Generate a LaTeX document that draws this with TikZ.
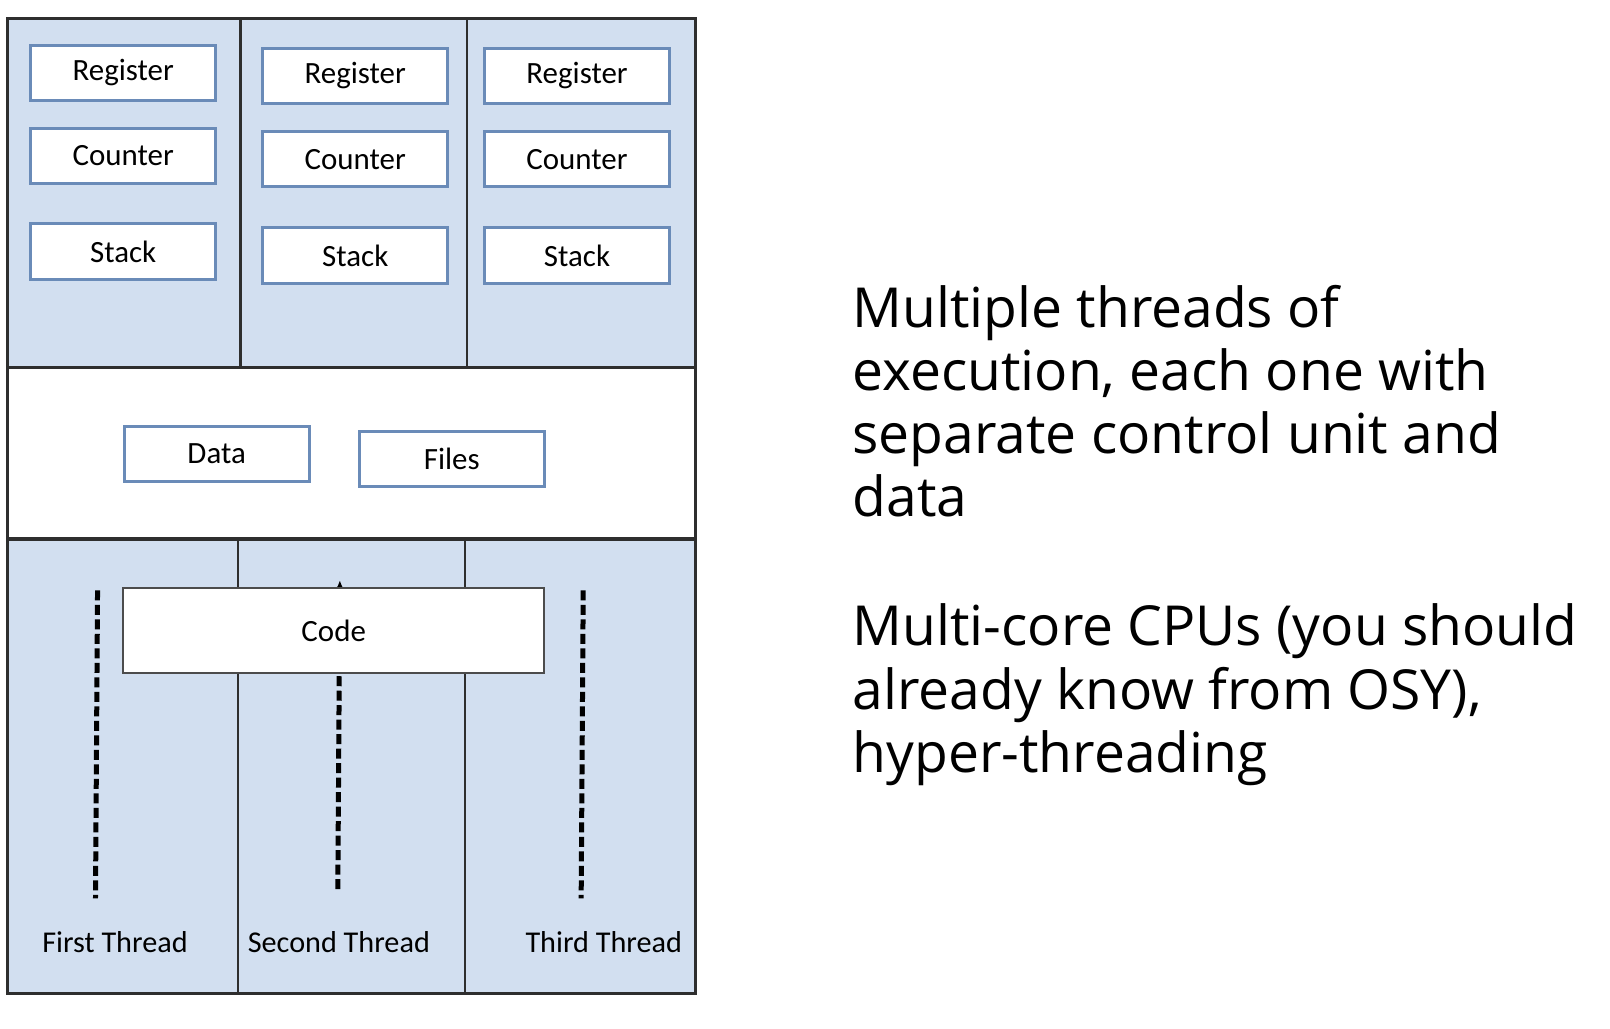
\documentclass[tikz,border=0pt]{standalone}
\usepackage{fontspec}
\setmainfont{Open Sans}
\newfontfamily\boxfont{Carlito}
\usetikzlibrary{arrows.meta,backgrounds}
\definecolor{paneblue}{HTML}{D2DFF0}
\definecolor{boxedge}{HTML}{6A8BB8}
\definecolor{frameline}{HTML}{2E2E2E}
\newcommand{\boxw}{3.7cm}
\newcommand{\boxh}{1.11cm}
\newcommand{\thickness}{0.6mm}
\tikzset{
  cell/.style={draw=boxedge, line width=\thickness, fill=white, minimum width=\boxw, minimum height=\boxh, inner sep=0pt, font=\boxfont\fontsize{17.6}{20}\selectfont},
  lane/.style={line width=0.1cm, dash pattern=on 0.2cm off 0.09cm},
  threadlabel/.style={font=\boxfont\fontsize{17.2}{20}\selectfont},
  bullet/.style={anchor=base west, align=left, inner sep=0pt, font=\fontsize{31.4}{35.9}\selectfont}
}
\begin{document}
\begin{tikzpicture}[x=0.020536cm,y=-0.020536cm]
\useasboundingbox (0,0) rectangle (1568,1001.2);
%panes
\fill[paneblue] (7,18) rectangle (677,358);
\fill[white] (7,358) rectangle (677,525);
\fill[paneblue] (7,525) rectangle (677,968);
\draw[frameline, line width=0.5mm] (234,18) -- (234,358);
\draw[frameline, line width=0.5mm] (455,18) -- (455,358);
\draw[frameline, line width=0.5mm] (232,525) -- (232,968);
\draw[frameline, line width=0.5mm] (453,525) -- (453,968);
\draw[frameline, line width=0.7mm] (7,358) -- (677,358);
\draw[frameline, line width=0.7mm] (7,525) -- (677,525);
\draw[frameline, line width=0.6mm] (7,18) rectangle (677,968);
%first thread
\node[cell] (1) at (120,71) {Register};
\node[cell] (2) at (120,152) {Counter};
\node[cell] (3) at (120,245) {Stack};
%second thread
\node[cell] (4) at (346,74) {Register};
\node[cell] (5) at (346,155) {Counter};
\node[cell] (6) at (346,249) {Stack};
%third thread
\node[cell] (7) at (562,74) {Register};
\node[cell] (8) at (562,155) {Counter};
\node[cell] (9) at (562,249) {Stack};
%shared
\node[cell] (10) at (211,442) {Data};
\node[cell] (11) at (440,447) {Files};
%lanes
\coordinate (a1) at (95,575);
\coordinate (b1) at (93,875);
\coordinate (a2) at (331,565);
\coordinate (b2) at (329,866);
\coordinate (a3) at (568,575);
\coordinate (b3) at (566,875);
\draw[lane] (a1) -- (b1);
\draw[lane, -{Latex[length=2mm,width=1.8mm]}] (b2) -- (a2);
\draw[lane] (a3) -- (b3);
\node[draw=black!70, line width=0.5mm, fill=white, minimum width=8.42cm, minimum height=1.7cm, font=\boxfont\fontsize{17.6}{20}\selectfont] (12) at (325,614) {Code};
\node[threadlabel] (13) at (112,918) {First Thread};
\node[threadlabel] (14) at (330,918) {Second Thread};
\node[threadlabel] (15) at (588,918) {Third Thread};
%text
\node[bullet] (16) at (830,503) {Multiple threads of\\execution, each one with\\separate control unit and\\data};
\node[bullet] (17) at (830,752) {Multi-core CPUs (you should\\already know from OSY),\\hyper-threading};
\end{tikzpicture}
\end{document}
